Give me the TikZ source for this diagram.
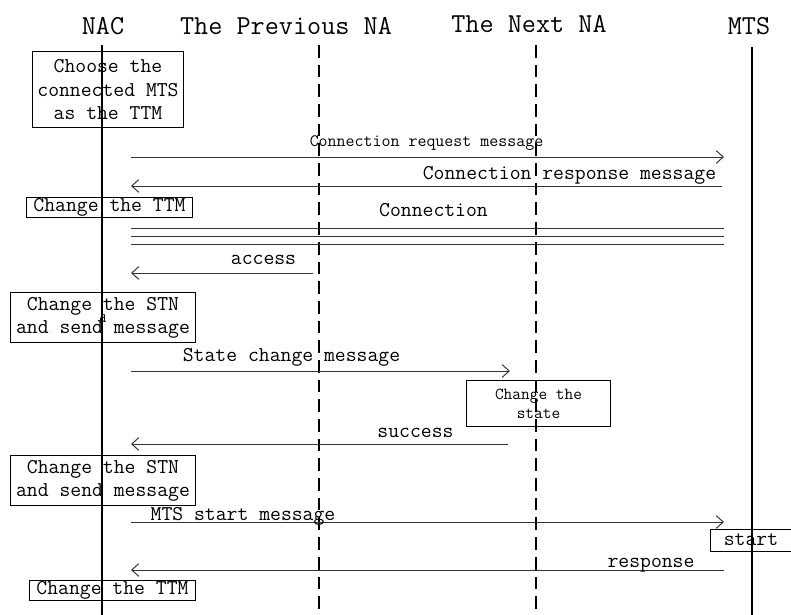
\documentclass[tikz,border=0pt]{standalone}
\usepackage{fontspec}
\usetikzlibrary{arrows.meta}

\begin{document}
\begin{tikzpicture}[
  x=0.025cm, y=-0.025cm,
  headtext/.style={font=\fontsize{19.5}{22}\selectfont\ttfamily, anchor=base, inner sep=0},
  msgtext/.style={font=\fontsize{15}{17}\selectfont\ttfamily, anchor=base, inner sep=0},
  smalltext/.style={font=\fontsize{#1}{14}\selectfont\ttfamily, anchor=base, inner sep=0},
  smalltext/.default=12.4,
  actbox/.style={draw, line width=0.7pt, inner sep=0, align=center,
    font=\fontsize{15}{16.5}\selectfont\ttfamily},
  lifeline/.style={line width=1.4pt},
  nalifeline/.style={line width=1.2pt, dash pattern=on 9pt off 5pt},
  msg/.style={line width=0.7pt, black!80, -{Straight Barb[length=5pt,width=9pt]}},
  bar/.style={line width=0.7pt, black!80}
]
\useasboundingbox (0,0) rectangle (791,615);

% Participants
\node[headtext] (nac) at (103,35) {NAC};
\node[headtext] (prev) at (286,35) {The Previous NA};
\node[headtext] (next) at (529,33) {The Next NA};
\node[headtext] (mts) at (749,35) {MTS};

% Lifelines
\coordinate (nacTop) at (102,45);  \coordinate (nacEnd) at (102,615);
\coordinate (prevTop) at (319,45); \coordinate (prevEnd) at (319,615);
\coordinate (nextTop) at (536,45); \coordinate (nextEnd) at (536,615);
\coordinate (mtsTop) at (752,47);  \coordinate (mtsEnd) at (752,615);
\draw[lifeline] (nacTop) -- (nacEnd);
\draw[nalifeline] (prevTop) -- (prevEnd);
\draw[nalifeline] (nextTop) -- (nextEnd);
\draw[lifeline] (mtsTop) -- (mtsEnd);

% Actions
\node[actbox, minimum width=3.75cm, minimum height=1.875cm] (choose) at (108,89.5)
  {Choose the\\connected MTS\\as the TTM};
\node[actbox, minimum width=4.125cm, minimum height=0.475cm] (ttmA) at (109.5,207.5) {Change the TTM};
\node[actbox, minimum width=4.6cm, minimum height=1.225cm] (stnA) at (103,317.5)
  {Change the STN\\and send message};
\node[actbox, minimum width=3.575cm, minimum height=1.125cm,
  font=\fontsize{12}{13.5}\selectfont\ttfamily] (state) at (538.5,403.5) {Change the\\state};
\node[actbox, minimum width=4.6cm, minimum height=1.225cm] (stnB) at (103,480.5)
  {Change the STN\\and send message};
\node[actbox, minimum width=2.05cm, minimum height=0.55cm] (start) at (751,540) {start};
\node[actbox, minimum width=4.125cm, minimum height=0.5cm] (ttmB) at (112.5,590) {Change the TTM};
\node[smalltext=9] (stray) at (103,323) {d};

% Messages
\coordinate (reqA) at (131,157);  \coordinate (reqB) at (724,157);
\coordinate (respA) at (722,186); \coordinate (respB) at (131,186);
\coordinate (accA) at (313,273);  \coordinate (accB) at (131,273);
\coordinate (stA) at (131,371);   \coordinate (stB) at (510,371);
\coordinate (sucA) at (508,444);  \coordinate (sucB) at (131,444);
\coordinate (goA) at (131,522);   \coordinate (goB) at (724,522);
\coordinate (rspA) at (724,570);  \coordinate (rspB) at (131,570);

\draw[msg] (reqA) -- (reqB);
\node[smalltext] (reqlbl) at (426.5,147) {Connection request message};
\draw[msg] (respA) -- (respB);
\node[msgtext] (resplbl) at (569.5,180) {Connection response message};

\node[msgtext] (connlbl) at (433.5,217) {Connection};
\foreach \y [count=\i] in {228,236,244} {
  \coordinate (conn\i W) at (131,\y);
  \coordinate (conn\i E) at (724,\y);
  \draw[bar] (conn\i W) -- (conn\i E);
}

\draw[msg] (accA) -- (accB);
\node[msgtext] (acclbl) at (263.5,265) {access};
\draw[msg] (stA) -- (stB);
\node[msgtext] (stlbl) at (291.5,362) {State change message};
\draw[msg] (sucA) -- (sucB);
\node[msgtext] (suclbl) at (415.5,438) {success};
\draw[msg] (goA) -- (goB);
\node[msgtext] (golbl) at (243,521) {MTS start message};
\draw[msg] (rspA) -- (rspB);
\node[msgtext] (rsplbl) at (651,568) {response};

\end{tikzpicture}
\end{document}
